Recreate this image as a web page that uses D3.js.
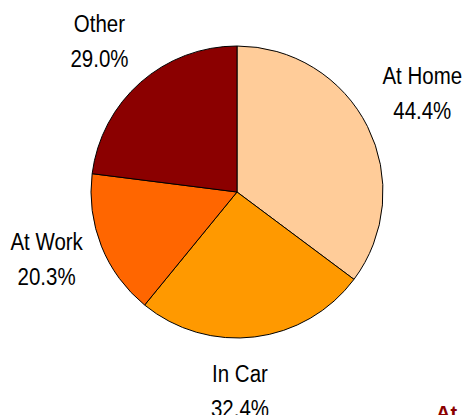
<!DOCTYPE html>
<html>
<head>
<meta charset="utf-8">
<script src="https://cdn.jsdelivr.net/npm/d3@7"></script>
<style>
  body { margin: 0; background: #fff; }
  svg { display: block; }
  .lbl { font-family: "Liberation Sans", Arial, sans-serif; font-size: 23px; fill: #000; }
</style>
</head>
<body>
<div class="chart"></div>
<script>
var categories = ["At Home", "In Car", "At Work", "Other"];
var values = [44.4, 32.4, 20.3, 29.0];
var colors = ["#FFCC99", "#FF9900", "#FF6600", "#8B0000"];

var svgWidth = 464;
var svgHeight = 415;
var cx = 237, cy = 192, radius = 146;
var labelRadius = 205;
// small hand nudges so labels sit where the original put them
var nudge = [[2, -7], [-22, -4], [0, -9], [-2, 3]];

var svg = d3.select(".chart")
    .append("svg")
    .attr("width", svgWidth)
    .attr("height", svgHeight);

var data = categories.map(function (c, i) {
    return { name: c, value: values[i], color: colors[i], idx: i };
});

var pie = d3.pie()
    .sort(null)
    .value(d => d.value);

var arc = d3.arc()
    .innerRadius(0)
    .outerRadius(radius);

var labelArc = d3.arc()
    .innerRadius(labelRadius)
    .outerRadius(labelRadius);

var g = svg.append("g")
    .attr("transform", `translate(${cx}, ${cy})`);

g.selectAll("path")
    .data(pie(data))
    .enter()
    .append("path")
    .attr("d", arc)
    .attr("fill", d => d.data.color)
    .attr("stroke", "#000")
    .attr("stroke-width", 1);

var labels = g.selectAll("text.lbl")
    .data(pie(data))
    .enter()
    .append("text")
    .attr("class", "lbl")
    .attr("text-anchor", "middle")
    .attr("transform", function (d) {
        var c = labelArc.centroid(d);
        var n = nudge[d.data.idx];
        // the original font is a bit narrow, so squeeze it sideways
        return `translate(${c[0] + n[0]}, ${c[1] - 9.5 + n[1]}) scale(0.89, 1)`;
    });

labels.append("tspan")
    .attr("x", 0)
    .attr("y", 0)
    .text(d => d.data.name);

labels.append("tspan")
    .attr("x", 0)
    .attr("y", 35)
    .text(d => d.data.value.toFixed(1) + "%");

// title, mostly cut off at the bottom right in the original
svg.append("text")
    .attr("x", 436)
    .attr("y", 420)
    .attr("font-family", "Liberation Sans, Arial, sans-serif")
    .attr("font-size", 20)
    .attr("font-weight", "bold")
    .attr("fill", "#8B0000")
    .text("At");
</script>
</body>
</html>
